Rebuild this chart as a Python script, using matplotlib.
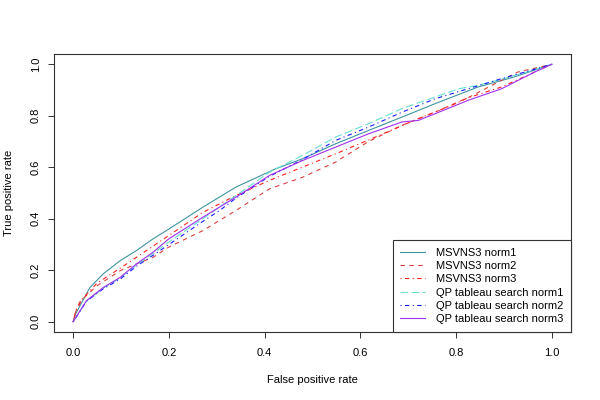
import matplotlib
matplotlib.use("Agg")
import matplotlib.pyplot as plt

plt.rcParams['font.family'] = ['Liberation Sans', 'DejaVu Sans']

# ROC curves (false positive rate, true positive rate)
fpr_ms1 = [0, 0.005, 0.035, 0.063, 0.098, 0.132, 0.167, 0.2, 0.271, 0.34, 0.423, 0.479,
           0.548, 0.617, 0.687, 0.756, 0.846, 0.92, 1.0]
tpr_ms1 = [0, 0.03, 0.133, 0.186, 0.237, 0.276, 0.322, 0.36, 0.445, 0.523, 0.594, 0.633,
           0.691, 0.743, 0.795, 0.847, 0.912, 0.95, 1.0]

fpr_ms2 = [0, 0.008, 0.015, 0.05, 0.1, 0.167, 0.2, 0.271, 0.34, 0.41, 0.479, 0.548,
           0.617, 0.687, 0.756, 0.83, 0.895, 0.929, 1.0]
tpr_ms2 = [0, 0.056, 0.08, 0.14, 0.2, 0.25, 0.29, 0.354, 0.432, 0.516, 0.561, 0.62,
           0.70, 0.763, 0.814, 0.875, 0.938, 0.97, 1.0]

fpr_ms3 = [0, 0.005, 0.02, 0.05, 0.1, 0.132, 0.2, 0.271, 0.34, 0.41, 0.548, 0.631,
           0.721, 0.79, 0.825, 0.895, 1.0]
tpr_ms3 = [0, 0.04, 0.09, 0.15, 0.21, 0.25, 0.335, 0.425, 0.49, 0.549, 0.652, 0.717,
           0.789, 0.84, 0.87, 0.912, 1.0]

fpr_qp1 = [0, 0.028, 0.063, 0.098, 0.132, 0.167, 0.2, 0.271, 0.34, 0.41, 0.479, 0.548,
           0.617, 0.687, 0.756, 0.805, 0.846, 0.92, 1.0]
tpr_qp1 = [0, 0.08, 0.13, 0.17, 0.22, 0.265, 0.31, 0.4, 0.49, 0.581, 0.646, 0.717,
           0.769, 0.828, 0.873, 0.905, 0.918, 0.955, 1.0]

fpr_qp2 = [0, 0.028, 0.063, 0.098, 0.132, 0.167, 0.2, 0.271, 0.306, 0.34, 0.41, 0.479,
           0.548, 0.617, 0.687, 0.756, 0.825, 0.895, 1.0]
tpr_qp2 = [0, 0.08, 0.128, 0.165, 0.215, 0.258, 0.3, 0.39, 0.432, 0.48, 0.565, 0.63,
           0.704, 0.756, 0.814, 0.866, 0.905, 0.944, 1.0]

fpr_qp3 = [0, 0.028, 0.063, 0.098, 0.132, 0.167, 0.2, 0.271, 0.34, 0.41, 0.479, 0.548,
           0.617, 0.687, 0.721, 0.756, 0.825, 0.895, 0.964, 1.0]
tpr_qp3 = [0, 0.082, 0.133, 0.172, 0.224, 0.27, 0.322, 0.406, 0.484, 0.568, 0.626, 0.678,
           0.73, 0.776, 0.782, 0.808, 0.86, 0.905, 0.97, 1.0]

labels = ["MSVNS3 norm1", "MSVNS3 norm2", "MSVNS3 norm3",
          "QP tableau search norm1", "QP tableau search norm2", "QP tableau search norm3"]
ticks = [0.0, 0.2, 0.4, 0.6, 0.8, 1.0]

fig = plt.figure(figsize=(6, 4), dpi=100)
ax = fig.add_axes([0.09, 0.17, 0.8617, 0.695])

lw = 0.8
ax.plot(fpr_ms1, tpr_ms1, color="#3f93a0", lw=lw, linestyle="-", label=labels[0])
ax.plot(fpr_ms2, tpr_ms2, color="#d9403f", lw=lw, linestyle=(0, (4, 4)), label=labels[1])
ax.plot(fpr_ms3, tpr_ms3, color="#ff2020", lw=lw, linestyle=(0, (1, 3, 4, 3)), label=labels[2])
ax.plot(fpr_qp1, tpr_qp1, color="#66e0d0", lw=lw, linestyle=(0, (7, 3)), label=labels[3])
ax.plot(fpr_qp2, tpr_qp2, color="#1a1aff", lw=lw, linestyle=(0, (1, 3, 4, 3)), label=labels[4])
ax.plot(fpr_qp3, tpr_qp3, color="#a030f0", lw=lw, linestyle="-", label=labels[5])

ax.set_xlim(-0.04, 1.04)
ax.set_ylim(-0.04, 1.04)
ax.set_xticks(ticks)
ax.set_yticks(ticks)
ax.set_xticklabels([f"{t:.1f}" for t in ticks])
ax.set_yticklabels([f"{t:.1f}" for t in ticks], rotation=90, va="center")
ax.tick_params(axis="both", labelsize=8, length=4.5, width=0.7, color="#333333")
ax.tick_params(axis="x", pad=7)
ax.tick_params(axis="y", pad=5)
for s in ax.spines.values():
    s.set_linewidth(0.8)
    s.set_color("#333333")

ax.set_xlabel("False positive rate", fontsize=8, labelpad=12)
ax.set_ylabel("True positive rate", fontsize=8, labelpad=12)

leg = ax.legend(loc="lower right", fontsize=8, borderaxespad=0, fancybox=False,
                framealpha=1, edgecolor="#333333", handlelength=2.2,
                labelspacing=0.3, borderpad=0.7, handletextpad=1.0)
leg.get_frame().set_linewidth(0.8)

fig.savefig("out.png", dpi=100)
